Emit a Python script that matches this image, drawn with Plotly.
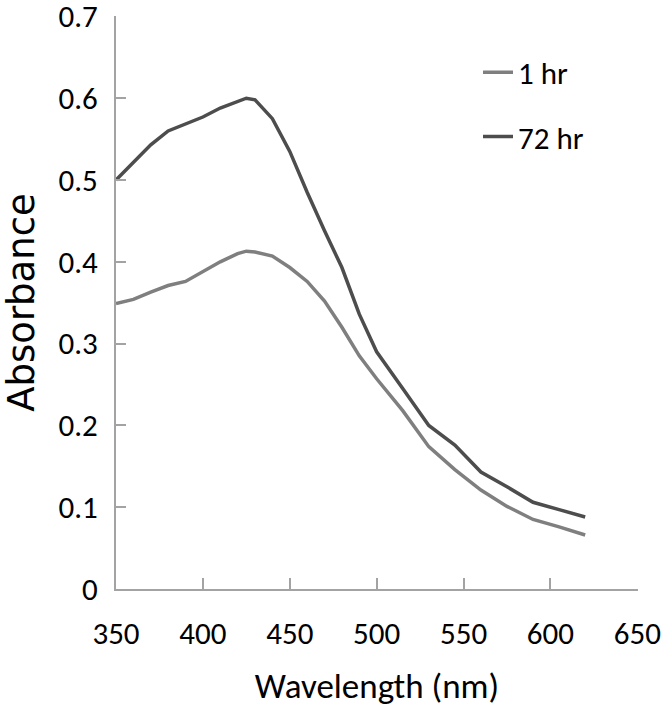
import plotly.graph_objects as go

wavelength = [350, 360, 370, 380, 390, 400, 410, 420, 425, 430, 440, 450, 460, 470,
              480, 490, 500, 515, 530, 545, 560, 575, 590, 605, 620]
abs_1hr = [0.349, 0.354, 0.363, 0.371, 0.376, 0.388, 0.400, 0.410, 0.413, 0.412, 0.407,
           0.393, 0.376, 0.352, 0.320, 0.285, 0.257, 0.218, 0.174, 0.146, 0.121, 0.101,
           0.085, 0.076, 0.066]
abs_72hr = [0.500, 0.522, 0.543, 0.560, 0.568, 0.577, 0.588, 0.596, 0.600, 0.598, 0.575,
            0.535, 0.485, 0.438, 0.393, 0.336, 0.290, 0.245, 0.200, 0.176, 0.143, 0.125,
            0.106, 0.097, 0.088]
series_names = ["1 hr", "72 hr"]
x_ticks = [350, 400, 450, 500, 550, 600, 650]
y_ticks = [0, 0.1, 0.2, 0.3, 0.4, 0.5, 0.6, 0.7]
y_tick_text = ["0", "0.1", "0.2", "0.3", "0.4", "0.5", "0.6", "0.7"]

NARROW = "Carlito, Liberation Sans, sans-serif"
AXIS_COLOR = "#a3a3a3"

fig = go.Figure()
fig.add_trace(go.Scatter(x=wavelength, y=abs_1hr, mode="lines", name=series_names[0],
                         legendgroup="a",
                         line=dict(color="#7f7f7f", width=3.5)))
fig.add_trace(go.Scatter(x=wavelength, y=abs_72hr, mode="lines", name=series_names[1],
                         legendgroup="b",
                         line=dict(color="#4d4d4d", width=3.5)))

fig.update_layout(
    width=661, height=708,
    margin=dict(l=116, r=23, t=16, b=119),
    paper_bgcolor="white", plot_bgcolor="white",
    font=dict(family=NARROW, color="black", size=31),
    showlegend=True,
    legend=dict(x=0.6935, y=0.9485, xanchor="left", yanchor="top",
                font=dict(family=NARROW, size=31, color="black"),
                bgcolor="rgba(0,0,0,0)", tracegroupgap=21,
                itemwidth=30),
    xaxis=dict(
        range=[350, 650.4], tickvals=x_ticks, automargin=False,
        showline=True, linecolor=AXIS_COLOR, linewidth=2,
        ticks="inside", ticklen=11, tickwidth=1.5, tickcolor=AXIS_COLOR,
        showgrid=False, zeroline=False,
        tickfont=dict(family=NARROW, size=31, color="black"),
        ticklabelstandoff=16,
        ticklabeloverflow="allow",
        title=dict(text="Wavelength (nm)", font=dict(family=NARROW, size=35, color="black"),
                   standoff=22),
    ),
    yaxis=dict(
        range=[0, 0.7005], tickvals=y_ticks, ticktext=y_tick_text, automargin=False,
        showline=True, linecolor=AXIS_COLOR, linewidth=2,
        ticks="inside", ticklen=10, tickwidth=1.5, tickcolor=AXIS_COLOR,
        showgrid=False, zeroline=False,
        tickfont=dict(family=NARROW, size=31, color="black"),
        ticklabelstandoff=10,
        ticklabeloverflow="allow",
        title=dict(text="Absorbance", font=dict(family="DejaVu Sans, sans-serif", size=37, color="black"),
                   standoff=17),
    ),
)

fig.write_html("out.html", config={"displayModeBar": False},
               post_script="document.body.style.margin='0';")
